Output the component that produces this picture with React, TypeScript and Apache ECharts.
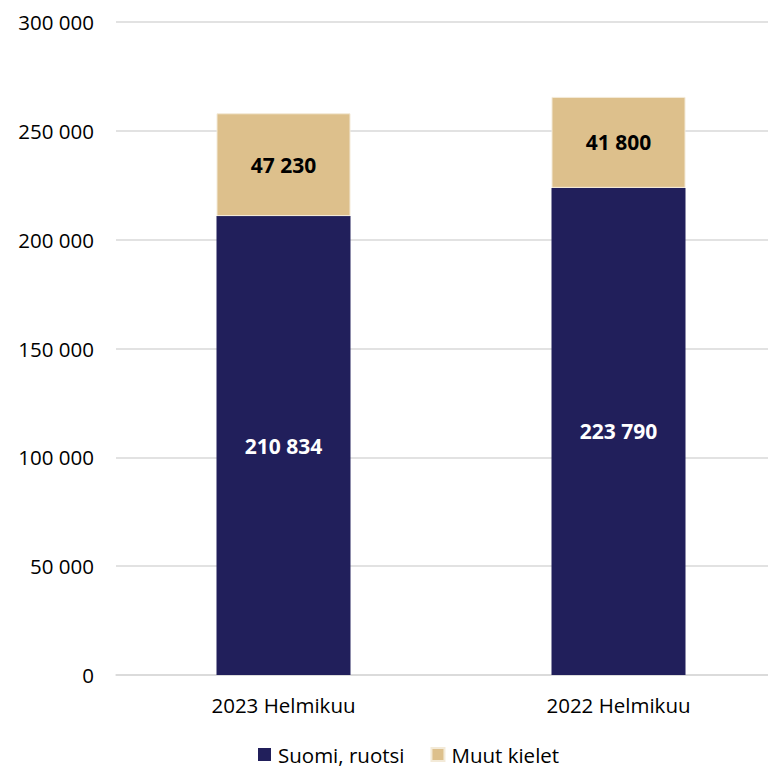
import React, { useEffect, useRef } from "react";
import * as echarts from "echarts";

const categories = ["2023 Helmikuu", "2022 Helmikuu"];
const seriesNames = ["Suomi, ruotsi", "Muut kielet"];
const suomiRuotsi = [210834, 223790];
const muutKielet = [47230, 41800];
const yTicks = { min: 0, max: 300000, interval: 50000 };

const fmt = (v: number) => String(Math.round(v)).replace(/\B(?=(\d{3})+(?!\d))/g, " ");

export default function App() {
  const ref = useRef<HTMLDivElement>(null);
  useEffect(() => {
    if (!ref.current) return;
    const chart = echarts.init(ref.current, null, { renderer: "svg" });
    const font = "'Open Sans', sans-serif";
    const fs = 20.5;
    chart.setOption({
      animation: false,
      textStyle: { fontFamily: font },
      grid: { left: 116, width: 670, top: 22, bottom: 94, containLabel: false },
      legend: {
        bottom: -1,
        left: 253,
        itemWidth: 13,
        itemHeight: 13,
        itemGap: 26,
        icon: "rect",
        textStyle: { fontSize: fs, color: "#000", fontFamily: font, padding: [0, 0, 0, 2] },
        data: seriesNames,
      },
      xAxis: {
        type: "category",
        data: categories,
        axisLine: { lineStyle: { color: "#d9d9d9", width: 1.5 } },
        axisTick: { show: false },
        axisLabel: { fontSize: fs, color: "#000", margin: 19, fontFamily: font },
      },
      yAxis: {
        type: "value",
        min: yTicks.min,
        max: yTicks.max,
        interval: yTicks.interval,
        axisLine: { show: false },
        axisTick: { show: false },
        splitLine: { lineStyle: { color: "#d9d9d9", width: 1.5 } },
        axisLabel: { fontSize: fs, color: "#000", margin: 22, fontFamily: font, formatter: (v: number) => fmt(v) },
      },
      series: [
        {
          name: seriesNames[0],
          type: "bar",
          stack: "total",
          barWidth: "40%",
          data: suomiRuotsi,
          itemStyle: { color: "#211F5B" },
          label: {
            show: true,
            position: "inside",
            color: "#fff",
            fontWeight: "bold",
            fontSize: 21,
            fontFamily: font,
            formatter: (p: any) => fmt(p.value),
          },
        },
        {
          name: seriesNames[1],
          type: "bar",
          stack: "total",
          barWidth: "40%",
          data: muutKielet,
          itemStyle: { color: "#DDC08C", borderColor: "#f3ead8", borderWidth: 1 },
          label: {
            show: true,
            position: "inside",
            color: "#000",
            fontWeight: "bold",
            fontSize: 21,
            fontFamily: font,
            formatter: (p: any) => fmt(p.value),
          },
        },
      ],
    });
    return () => chart.dispose();
  }, []);
  return (
    <div style={{ position: "fixed", left: 0, top: 0, width: 768, height: 769, overflow: "hidden", background: "#fff" }}>
      <div ref={ref} style={{ width: 800, height: 769 }} />
    </div>
  );
}
